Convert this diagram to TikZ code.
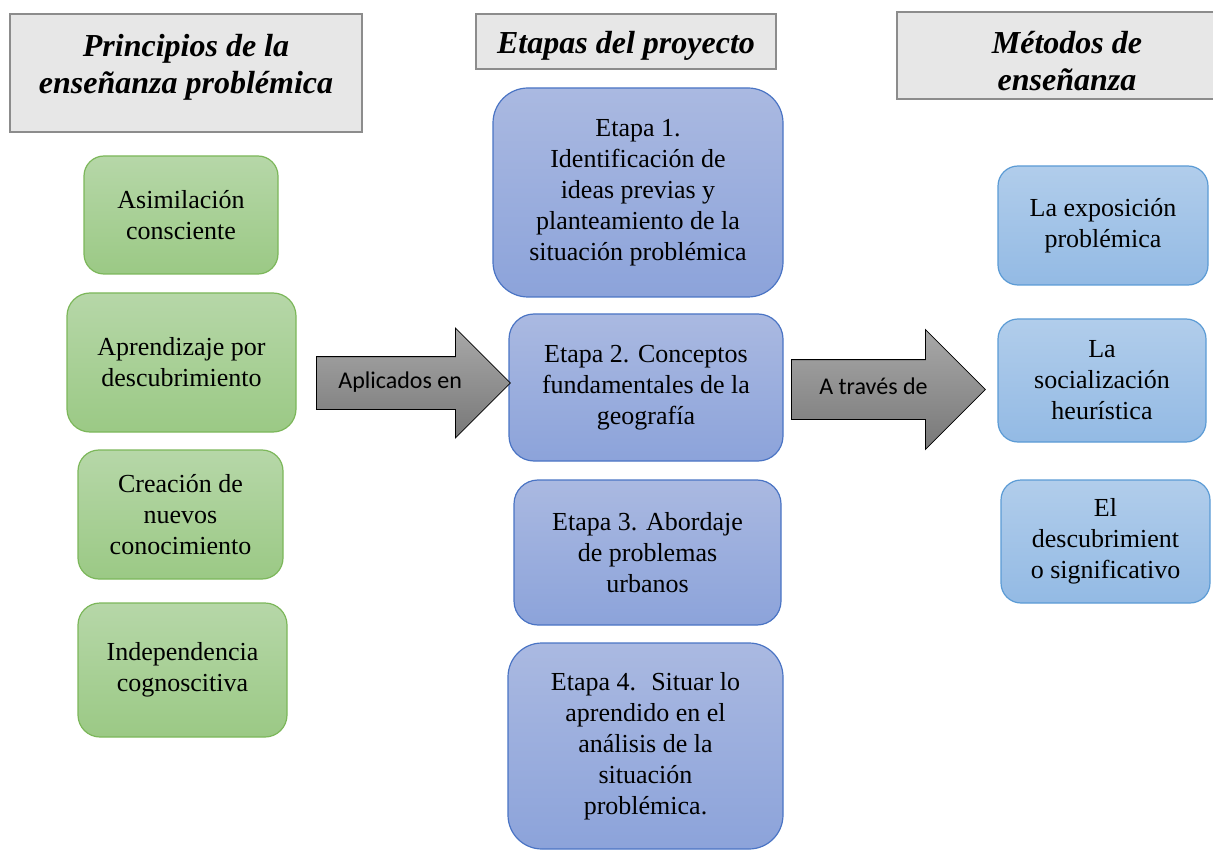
\documentclass[tikz,border=0pt]{standalone}
\usepackage{fontspec}
\setmainfont{Liberation Serif}
\newfontfamily\calibri{Carlito}
\usetikzlibrary{shapes.arrows,positioning}
\definecolor{gtop}{HTML}{B6D7A8}
\definecolor{gbot}{HTML}{9BC985}
\definecolor{gline}{HTML}{7CB75A}
\definecolor{btop}{HTML}{AAB9E1}
\definecolor{bbot}{HTML}{8CA3DA}
\definecolor{bline}{HTML}{4A74C4}
\definecolor{stop}{HTML}{B1CDEB}
\definecolor{sbot}{HTML}{93BAE4}
\definecolor{sline}{HTML}{5B9BD5}
\definecolor{hfill}{HTML}{E7E7E7}
\definecolor{hline}{HTML}{8C8C8C}
\definecolor{atop}{HTML}{A8A8A8}
\definecolor{abot}{HTML}{787878}
\tikzset{
 box/.style={line width=1.2pt, align=center, inner sep=0pt, font=\fontsize{26}{31}\selectfont},
 greenbox/.style={box, draw=gline, top color=gtop, bottom color=gbot},
 bluebox/.style={box, draw=bline, top color=btop, bottom color=bbot},
 skybox/.style={box, draw=sline, top color=stop, bottom color=sbot},
 headbox/.style={draw=hline, line width=1.5pt, fill=hfill, inner sep=0pt},
 headtext/.style={align=center, inner sep=0pt, font=\fontsize{32}{37}\selectfont\bfseries\itshape},
 grayarrow/.style={single arrow, single arrow tip angle=90, draw=black, line width=0.8pt,
   top color=atop, bottom color=abot, inner xsep=4pt, text height=16pt, text depth=6pt,
   font=\calibri\fontsize{24}{28}\selectfont},
}
\begin{document}
\begin{tikzpicture}[x=1pt,y=-1pt]
\useasboundingbox (0,0) rectangle (1213,850);

\node[headbox, minimum width=352pt, minimum height=118pt] (hP) at (186,73) {};
\node[headbox, minimum width=300pt, minimum height=55pt] (hE) at (626,41.5) {};
\node[headbox, minimum width=340pt, minimum height=87pt] (hM) at (1067,55.5) {};
\node[headtext, below=21pt of hP.north] (hPt) {Principios de la\\enseñanza problémica};
\node[headtext, below=18pt of hE.north] (hEt) {Etapas del proyecto};
\node[headtext, below=20pt of hM.north] (hMt) {Métodos de\\enseñanza};

\node[greenbox, rounded corners=20pt, minimum width=194pt, minimum height=118pt] (g1) at (181,215) {Asimilación\\consciente};
\node[greenbox, rounded corners=23pt, minimum width=229pt, minimum height=139pt] (g2) at (181.5,362.5) {Aprendizaje por\\descubrimiento};
\node[greenbox, rounded corners=21pt, minimum width=205pt, minimum height=129pt] (g3) at (180.5,514.5) {Creación de\\nuevos\\conocimiento};
\node[greenbox, rounded corners=22pt, minimum width=209pt, minimum height=134pt] (g4) at (182.5,670) {Independencia\\cognoscitiva};

\node[bluebox, rounded corners=35pt, minimum width=290pt, minimum height=209pt] (e1) at (638,192.5) {Etapa 1.\\Identificación de\\ideas previas y\\planteamiento de la\\situación problémica};
\node[bluebox, rounded corners=25pt, minimum width=274pt, minimum height=147pt] (e2) at (646,387.5) {Etapa 2. Conceptos\\fundamentales de la\\geografía};
\node[bluebox, rounded corners=24pt, minimum width=267pt, minimum height=145pt] (e3) at (647.5,552.5) {Etapa 3. Abordaje\\de problemas\\urbanos};
\node[bluebox, rounded corners=34pt, minimum width=275pt, minimum height=206pt] (e4) at (645.5,746) {Etapa 4.~ Situar lo\\aprendido en el\\análisis de la\\situación\\problémica.};

\node[skybox, rounded corners=20pt, minimum width=210pt, minimum height=119pt] (m1) at (1103,225.5) {La exposición\\problémica};
\node[skybox, rounded corners=20pt, minimum width=208pt, minimum height=123pt] (m2) at (1102,380.5) {La\\socialización\\heurística};
\node[skybox, rounded corners=20pt, minimum width=209pt, minimum height=123pt] (m3) at (1105.5,541.5) {El\\descubrimient\\o significativo};

\node[grayarrow, inner ysep=15pt, single arrow head extend=28.5pt, minimum height=194pt, anchor=tail] (arrA) at (316,383) {Aplicados en};
\node[grayarrow, inner ysep=18.5pt, single arrow head extend=30pt, minimum height=194pt, anchor=tail] (arrB) at (791,389.5) {A través de};

\end{tikzpicture}
\end{document}
